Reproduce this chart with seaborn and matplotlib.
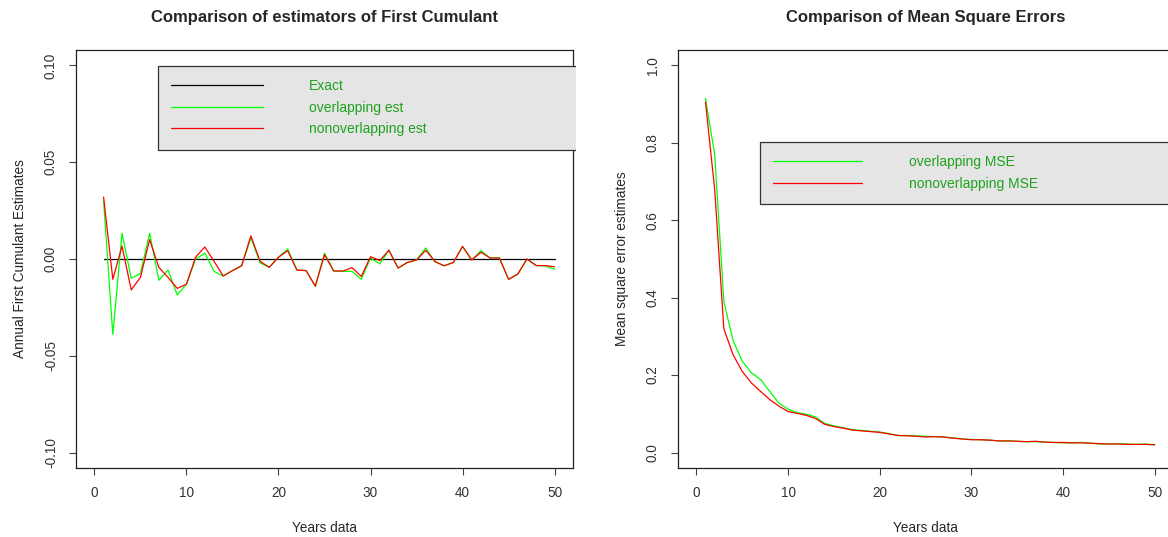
import numpy as np
import pandas as pd
import seaborn as sns
import matplotlib.pyplot as plt
from matplotlib.transforms import Bbox, TransformedBbox

years = list(range(1, 51))

exact = [0.0] * 50

overlap_est = [0.030, -0.039, 0.0133, -0.010, -0.0074, 0.0133, -0.011, -0.0057, -0.0186, -0.013,
               0.0, 0.003, -0.0064, -0.0088, -0.006, -0.0035, 0.011, -0.002, -0.0043, 0.0009,
               0.0052, -0.0057, -0.006, -0.0142, 0.003, -0.0062, -0.0064, -0.0064, -0.0105, 0.0005,
               -0.0025, 0.0045, -0.0047, -0.0018, -0.0005, 0.0057, -0.0015, -0.0035, -0.0018, 0.0065,
               -0.0005, 0.0043, 0.0005, 0.0007, -0.0105, -0.0078, 0.0, -0.0034, -0.0036, -0.0053]

nonoverlap_est = [0.032, -0.0105, 0.0067, -0.016, -0.0095, 0.010, -0.0043, -0.0095, -0.0152, -0.013,
                  0.001, 0.0062, -0.0012, -0.0088, -0.006, -0.0035, 0.012, -0.0012, -0.0043, 0.0009,
                  0.0043, -0.0057, -0.006, -0.014, 0.0022, -0.0062, -0.0062, -0.0045, -0.009, 0.0012,
                  -0.0008, 0.0045, -0.0047, -0.0018, -0.0005, 0.0045, -0.0013, -0.0035, -0.0018, 0.0065,
                  -0.0005, 0.0035, 0.0005, 0.0005, -0.0105, -0.0078, 0.0, -0.0034, -0.0034, -0.004]

overlap_mse = [0.915, 0.77, 0.39, 0.29, 0.236, 0.206, 0.189, 0.158, 0.128, 0.112,
               0.103, 0.099, 0.092, 0.075, 0.069, 0.064, 0.059, 0.057, 0.055, 0.053,
               0.049, 0.044, 0.044, 0.043, 0.042, 0.041, 0.040, 0.038, 0.035, 0.034,
               0.033, 0.032, 0.030, 0.030, 0.029, 0.028, 0.028, 0.027, 0.026, 0.025,
               0.025, 0.026, 0.024, 0.022, 0.022, 0.023, 0.022, 0.021, 0.022, 0.020]

nonoverlap_mse = [0.905, 0.68, 0.32, 0.253, 0.21, 0.18, 0.158, 0.137, 0.120, 0.106,
                  0.101, 0.096, 0.088, 0.073, 0.067, 0.063, 0.058, 0.056, 0.054, 0.052,
                  0.048, 0.044, 0.043, 0.042, 0.040, 0.041, 0.040, 0.037, 0.035, 0.033,
                  0.033, 0.032, 0.030, 0.030, 0.029, 0.028, 0.029, 0.027, 0.026, 0.026,
                  0.025, 0.025, 0.024, 0.023, 0.022, 0.022, 0.021, 0.021, 0.021, 0.020]

sns.set_style("white")
plt.rcParams['font.family'] = ['Liberation Sans', 'DejaVu Sans']

txt_green = "#1fa21f"
tick_col = "#333333"

fig = plt.figure(figsize=(11.68, 5.37), dpi=100)
ax1 = fig.add_axes([76 / 1168, 1 - 468 / 537, 497 / 1168, 418 / 537])
ax2 = fig.add_axes([678 / 1168, 1 - 468 / 537, 495 / 1168, 418 / 537])

df1 = pd.DataFrame({"year": years, "Exact": exact, "overlapping est": overlap_est,
                    "nonoverlapping est": nonoverlap_est})
df2 = pd.DataFrame({"year": years, "overlapping MSE": overlap_mse,
                    "nonoverlapping MSE": nonoverlap_mse})

sns.lineplot(data=df1, x="year", y="Exact", color="black", lw=0.9, ax=ax1, label="Exact")
sns.lineplot(data=df1, x="year", y="overlapping est", color="#00ff00", lw=0.9, ax=ax1,
             label="overlapping est")
sns.lineplot(data=df1, x="year", y="nonoverlapping est", color="#ff0000", lw=0.9, ax=ax1,
             label="nonoverlapping est")

sns.lineplot(data=df2, x="year", y="overlapping MSE", color="#00ff00", lw=0.9, ax=ax2,
             label="overlapping MSE")
sns.lineplot(data=df2, x="year", y="nonoverlapping MSE", color="#ff0000", lw=0.9, ax=ax2,
             label="nonoverlapping MSE")

ax1.set_xlim(-2, 52)
ax1.set_ylim(-0.108, 0.108)
ax1.set_yticks([-0.10, -0.05, 0.0, 0.05, 0.10])
ax1.set_yticklabels(["-0.10", "-0.05", "0.00", "0.05", "0.10"])
ax2.set_xlim(-2, 52)
ax2.set_ylim(-0.04, 1.04)
ax2.set_yticks([0.0, 0.2, 0.4, 0.6, 0.8, 1.0])
ax2.set_yticklabels(["0.0", "0.2", "0.4", "0.6", "0.8", "1.0"])

titles = ["Comparison of estimators of First Cumulant", "Comparison of Mean Square Errors"]
ylabels = ["Annual First Cumulant Estimates", "Mean square error estimates"]
for ax, title, ylab in zip([ax1, ax2], titles, ylabels):
    ax.set_xticks([0, 10, 20, 30, 40, 50])
    ax.set_title(title, fontsize=12, fontweight="bold", pad=20)
    ax.set_xlabel("Years data", fontsize=9.8, labelpad=15)
    ax.set_ylabel(ylab, fontsize=9.8, labelpad=12)
    ax.tick_params(axis="both", direction="out", length=5, width=0.8, colors="#444444",
                   labelcolor=tick_col, labelsize=9.8, left=True, bottom=True)
    ax.tick_params(axis="x", pad=8)
    ax.tick_params(axis="y", pad=8)
    for lab in ax.get_yticklabels():
        lab.set_rotation(90)
        lab.set_va("center")
    for sp in ax.spines.values():
        sp.set_visible(True)
        sp.set_color("#222222")
        sp.set_linewidth(0.9)

# legends
leg1 = ax1.legend(loc="upper left", bbox_to_anchor=(0.165, 0.962, 1.0, 0.0), mode="expand",
                  fontsize=10, handlelength=6.6, handletextpad=3.3, borderpad=0.95,
                  labelspacing=0.55, fancybox=False, framealpha=1, facecolor="#e5e5e5",
                  edgecolor="#333333", borderaxespad=0)
leg2 = ax2.legend(loc="upper left", bbox_to_anchor=(0.166, 0.780, 0.9, 0.0), mode="expand",
                  fontsize=10, handlelength=6.4, handletextpad=3.4, borderpad=0.95,
                  labelspacing=0.55, fancybox=False, framealpha=1, facecolor="#e5e5e5",
                  edgecolor="#333333", borderaxespad=0)
for leg in [leg1, leg2]:
    leg.get_frame().set_linewidth(0.9)
    for t in leg.get_texts():
        t.set_color(txt_green)
    for h in leg.get_lines():
        h.set_linewidth(0.9)

# left legend is cut at the edge of its panel
clip = TransformedBbox(Bbox([[0, 0], [576 / 1168, 1]]), fig.transFigure)
leg1.get_frame().set_clip_box(clip)
leg1.get_frame().set_clip_on(True)

fig.savefig("out.png", dpi=100)
plt.close(fig)
